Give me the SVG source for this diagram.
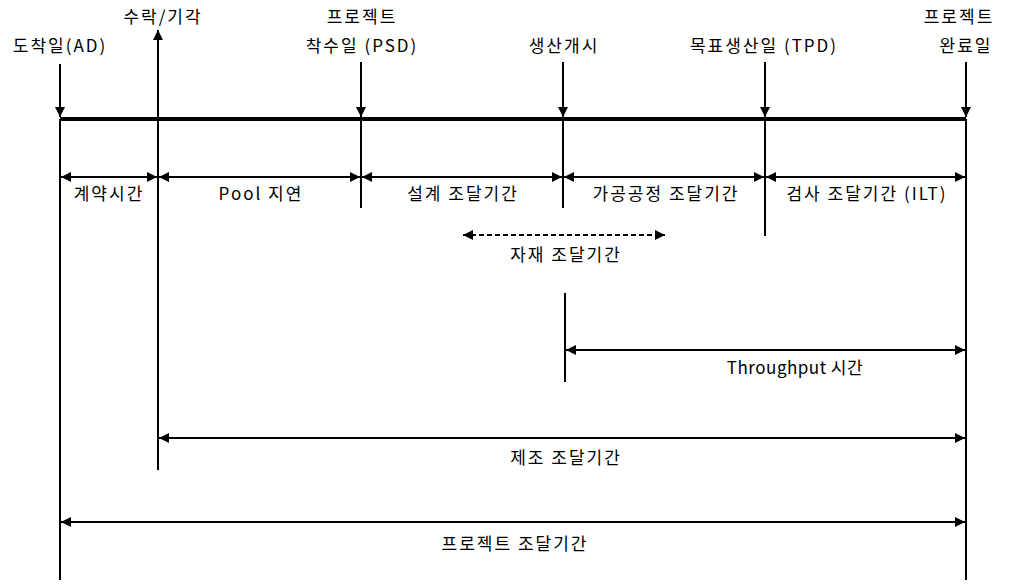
<svg xmlns="http://www.w3.org/2000/svg" width="1010" height="584" viewBox="0 0 1010 584">
<style>
text{font-family:"Noto Sans CJK KR","Liberation Sans",sans-serif;font-size:17px;fill:#000;text-anchor:middle;letter-spacing:2px;}
.lat{letter-spacing:0.5px;}
.ln{stroke:#000;stroke-width:2;fill:none;}
.dim{stroke:#000;stroke-width:2;fill:none;marker-start:url(#ah);marker-end:url(#ah);}
.dash{stroke-dasharray:5 3;}
.main{stroke:#000;stroke-width:4;}
</style>
<defs>
<marker id="ah" viewBox="0 0 10 10" refX="10" refY="5" markerWidth="6" markerHeight="5" orient="auto-start-reverse" markerUnits="strokeWidth">
<path d="M0,0 L10,5 L0,10 z" fill="#000"/>
</marker>
</defs>
<rect width="1010" height="584" fill="#fff"/>
<g id="connectors">
<line class="main" x1="60" y1="119" x2="966" y2="119"/>
<line class="ln" x1="60" y1="64" x2="60" y2="117" marker-end="url(#ah)"/>
<line class="ln" x1="158" y1="119" x2="158" y2="30" marker-end="url(#ah)"/>
<line class="ln" x1="361" y1="62" x2="361" y2="117" marker-end="url(#ah)"/>
<line class="ln" x1="563" y1="62" x2="563" y2="117" marker-end="url(#ah)"/>
<line class="ln" x1="765" y1="62" x2="765" y2="117" marker-end="url(#ah)"/>
<line class="ln" x1="966" y1="62" x2="966" y2="117" marker-end="url(#ah)"/>
<line class="ln" x1="60" y1="119" x2="60" y2="580"/>
<line class="ln" x1="158" y1="119" x2="158" y2="470"/>
<line class="ln" x1="361" y1="119" x2="361" y2="208"/>
<line class="ln" x1="563" y1="119" x2="563" y2="208"/>
<line class="ln" x1="765" y1="119" x2="765" y2="236"/>
<line class="ln" x1="966" y1="119" x2="966" y2="580"/>
<line class="ln" x1="565" y1="293" x2="565" y2="382"/>
<line class="dim" x1="61" y1="177" x2="157" y2="177"/>
<line class="dim" x1="159" y1="177" x2="360" y2="177"/>
<line class="dim" x1="362" y1="177" x2="562" y2="177"/>
<line class="dim" x1="564" y1="177" x2="764" y2="177"/>
<line class="dim" x1="766" y1="177" x2="965" y2="177"/>
<line class="dim dash" x1="463" y1="235" x2="665" y2="235"/>
<line class="dim" x1="566" y1="350" x2="965" y2="350"/>
<line class="dim" x1="159" y1="438" x2="965" y2="438"/>
<line class="dim" x1="61" y1="522" x2="965" y2="522"/>
</g>
<g id="n-ad"><text x="60" y="52">도착일(AD)</text></g>
<g id="n-accept"><text x="163" y="23">수락/기각</text></g>
<g id="n-psd"><text x="362" y="23">프로젝트</text><text x="362" y="52">착수일 (PSD)</text></g>
<g id="n-start"><text x="564" y="52">생산개시</text></g>
<g id="n-tpd"><text x="764" y="52">목표생산일 (TPD)</text></g>
<g id="n-end"><text x="959" y="23">프로젝트</text><text x="966" y="52">완료일</text></g>
<g id="l-contract"><text x="109" y="200">계약시간</text></g>
<g id="l-pool"><text x="261" y="200">Pool 지연</text></g>
<g id="l-design"><text x="463" y="200">설계 조달기간</text></g>
<g id="l-process"><text x="666" y="200">가공공정 조달기간</text></g>
<g id="l-inspect"><text x="867" y="200">검사 조달기간 (ILT)</text></g>
<g id="l-material"><text x="566" y="261">자재 조달기간</text></g>
<g id="l-throughput"><text class="lat" x="795" y="374">Throughput 시간</text></g>
<g id="l-mfg"><text x="566" y="464">제조 조달기간</text></g>
<g id="l-project"><text x="515" y="550">프로젝트 조달기간</text></g>
</svg>
